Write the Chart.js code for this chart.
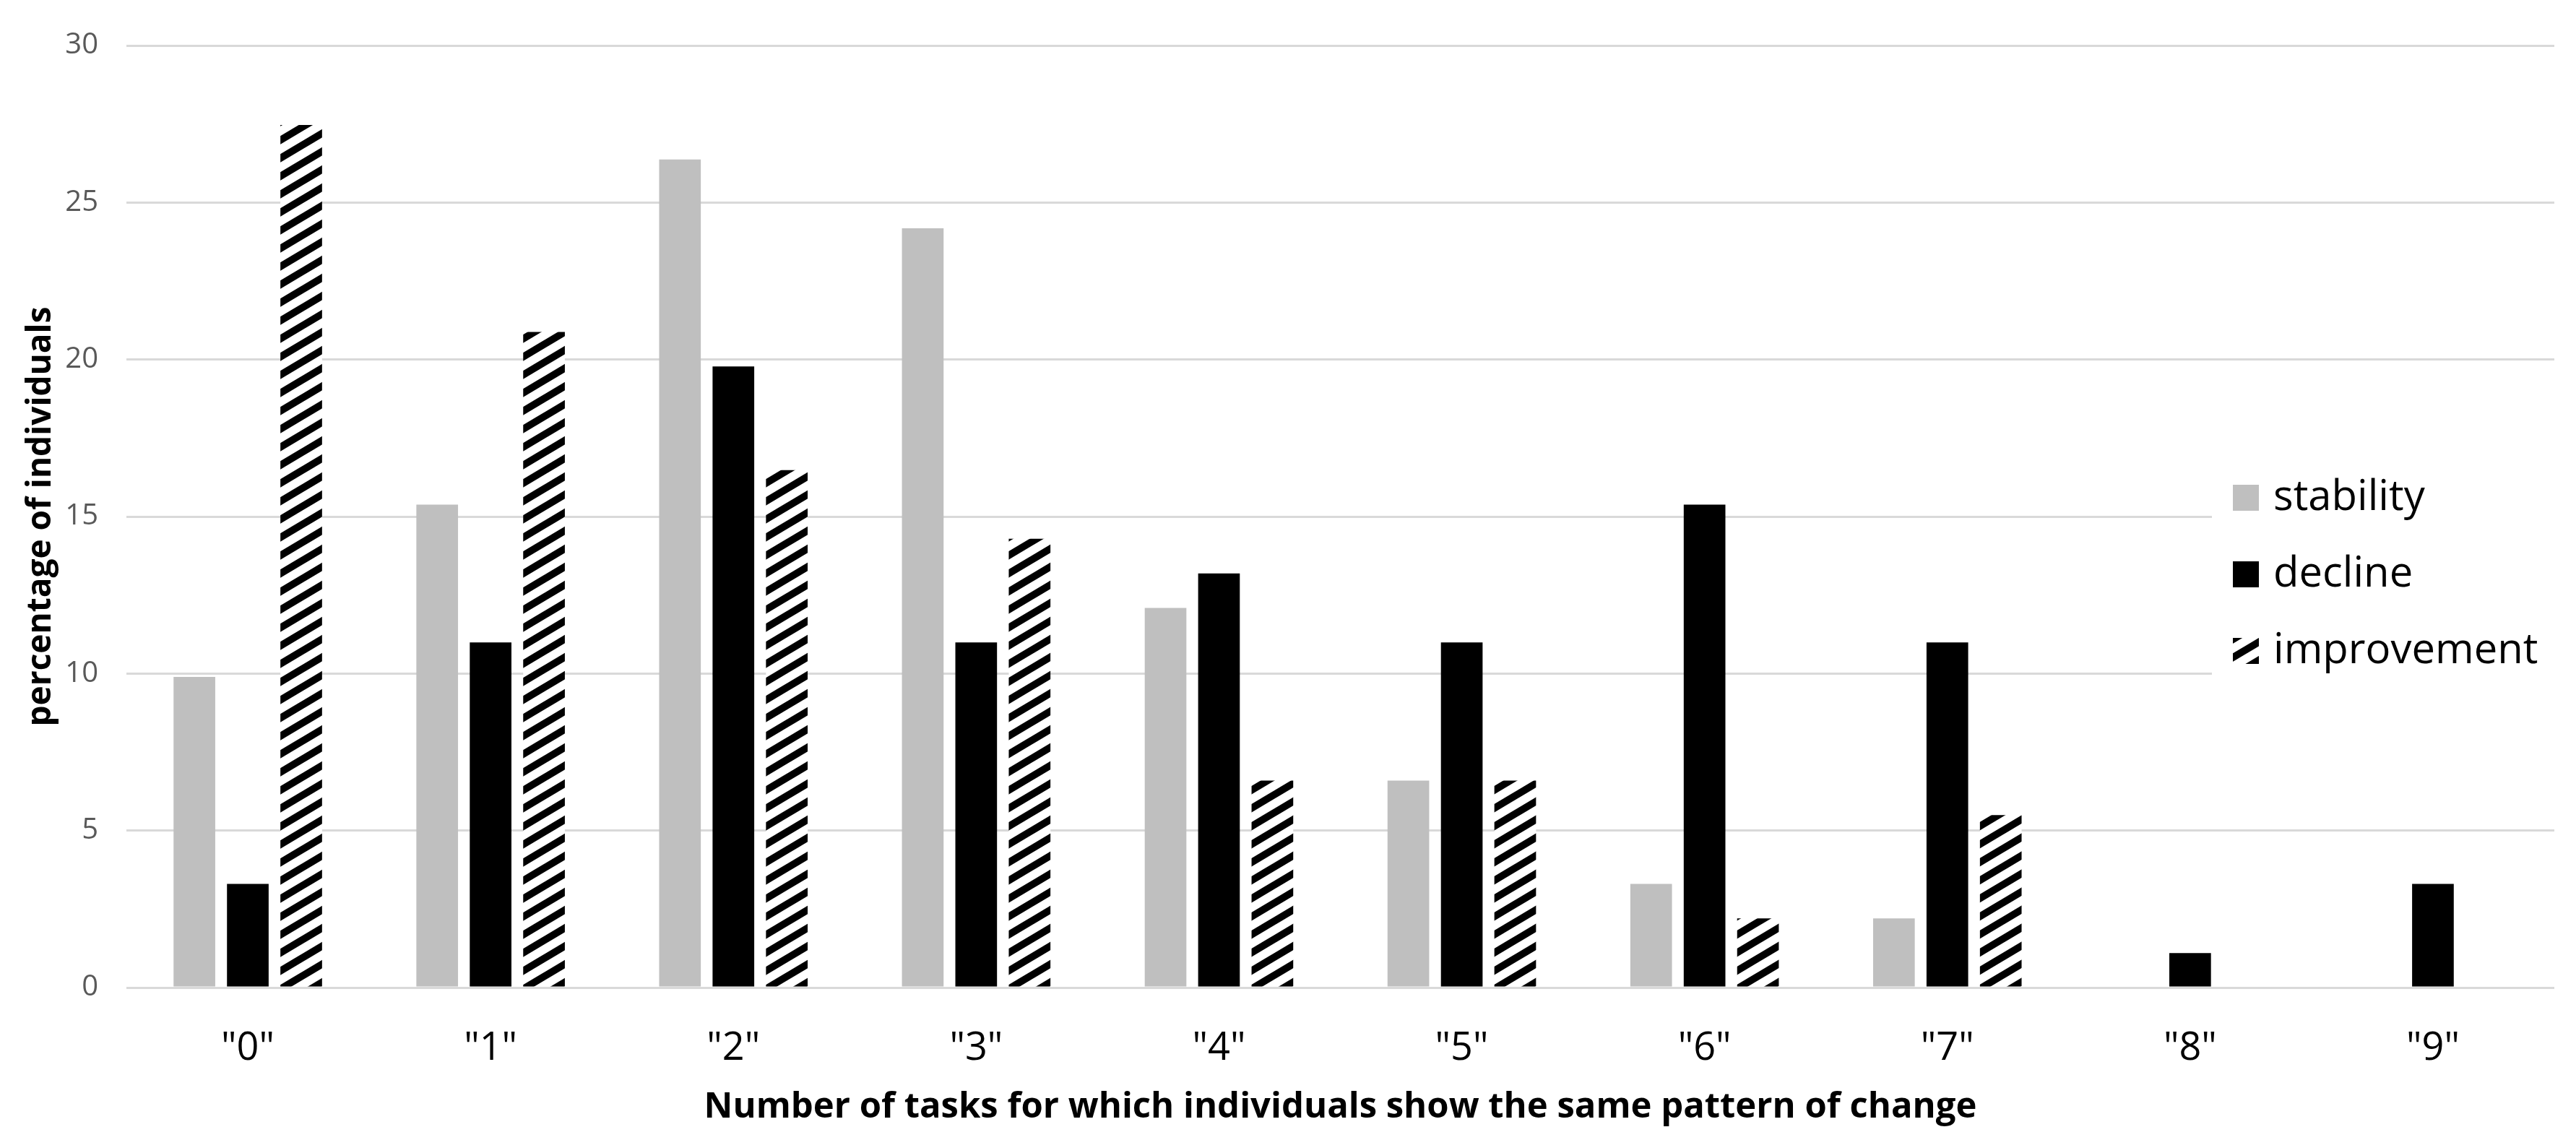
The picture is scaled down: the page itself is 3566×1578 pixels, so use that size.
<!DOCTYPE html>
<html>
  <head>
    <title>Pattern of change</title>
    <script src="https://cdn.jsdelivr.net/npm/chart.js"></script>
    <style>
      html, body { margin: 0; padding: 0; background: #fff; overflow: hidden; }
    </style>
  </head>
  <body>
    <canvas id="grafico" width="3566" height="1578"></canvas>

    <script>
      const categorias = ['"0"', '"1"', '"2"', '"3"', '"4"', '"5"', '"6"', '"7"', '"8"', '"9"'];
      const stability = [9.89, 15.38, 26.37, 24.18, 12.09, 6.59, 3.30, 2.20, 0, 0];
      const decline = [3.30, 10.99, 19.78, 10.99, 13.19, 10.99, 15.38, 10.99, 1.10, 3.30];
      const improvement = [27.47, 20.88, 16.48, 14.29, 6.59, 6.59, 2.20, 5.49, 0, 0];
      const yTicks = [0, 5, 10, 15, 20, 25, 30];

      const FONTE = '"Open Sans", "Noto Sans", sans-serif';

      // hachura "/" tipo padrao do Excel
      function criarHachura() {
        const w = 42, h = 25;
        const c = document.createElement('canvas');
        c.width = w; c.height = h;
        const g = c.getContext('2d');
        g.fillStyle = '#fff';
        g.fillRect(0, 0, w, h);
        g.strokeStyle = '#000';
        g.lineWidth = 10;
        for (let k = 0; k <= 2; k++) {
          g.beginPath();
          g.moveTo(-w, k * h + h);
          g.lineTo(2 * w, k * h - 2 * h);
          g.stroke();
        }
        return g.createPattern(c, 'repeat');
      }

      // legenda dentro da area do grafico, com fundo branco
      const legendaLateral = {
        id: 'legendaLateral',
        afterDraw(chart) {
          const ctx = chart.ctx;
          const x0 = 3062;
          ctx.save();
          ctx.fillStyle = '#fff';
          ctx.fillRect(x0, 630, chart.width - x0, 330);
          ctx.font = '58px ' + FONTE;
          ctx.textBaseline = 'middle';
          ctx.textAlign = 'left';
          chart.data.datasets.forEach((ds, i) => {
            const y = 689 + i * 106;
            ctx.fillStyle = ds.backgroundColor;
            ctx.fillRect(x0 + 29, y - 18, 36, 36);
            ctx.fillStyle = '#000';
            ctx.fillText(ds.label, x0 + 85, y);
          });
          ctx.restore();
        }
      };

      function desenhar() {
        const ctx = document.getElementById('grafico').getContext('2d');
        const hachura = criarHachura();

        new Chart(ctx, {
          type: 'bar',
          data: {
            labels: categorias,
            datasets: [
              { label: 'stability', data: stability, backgroundColor: '#bfbfbf' },
              { label: 'decline', data: decline, backgroundColor: '#000000' },
              { label: 'improvement', data: improvement, backgroundColor: hachura }
            ]
          },
          options: {
            responsive: false,
            animation: false,
            devicePixelRatio: 1,
            layout: { padding: { top: 46, right: 30, left: 0, bottom: 0 } },
            datasets: {
              bar: { categoryPercentage: 0.66, barPercentage: 0.78, borderWidth: 0 }
            },
            plugins: {
              legend: { display: false },
              tooltip: { enabled: false }
            },
            scales: {
              x: {
                grid: { display: false },
                border: { display: false },
                ticks: {
                  color: '#000',
                  padding: 44,
                  maxRotation: 0,
                  font: { family: FONTE, size: 54 }
                },
                title: {
                  display: true,
                  text: 'Number of tasks for which individuals show the same pattern of change',
                  color: '#000',
                  font: { family: FONTE, size: 49, weight: 'bold' },
                  padding: { top: 0, bottom: 16 }
                },
                afterFit(scale) { scale.height = 211; }
              },
              y: {
                min: 0,
                max: 30,
                grid: { color: '#d9d9d9', lineWidth: 3, drawTicks: false },
                border: { display: false },
                afterBuildTicks(scale) { scale.ticks = yTicks.map(v => ({ value: v })); },
                ticks: {
                  color: '#595959',
                  padding: 39,
                  font: { family: FONTE, size: 40 }
                },
                title: {
                  display: true,
                  text: 'percentage of individuals',
                  color: '#000',
                  font: { family: FONTE, size: 46, weight: 'bold' },
                  padding: { top: 29, bottom: 0 }
                },
                afterFit(scale) { scale.width = 175; }
              }
            }
          },
          plugins: [legendaLateral]
        });
      }

      Promise.all([
        document.fonts.load('40px "Open Sans"'),
        document.fonts.load('bold 49px "Open Sans"')
      ]).then(desenhar, desenhar);
    </script>
  </body>
</html>
